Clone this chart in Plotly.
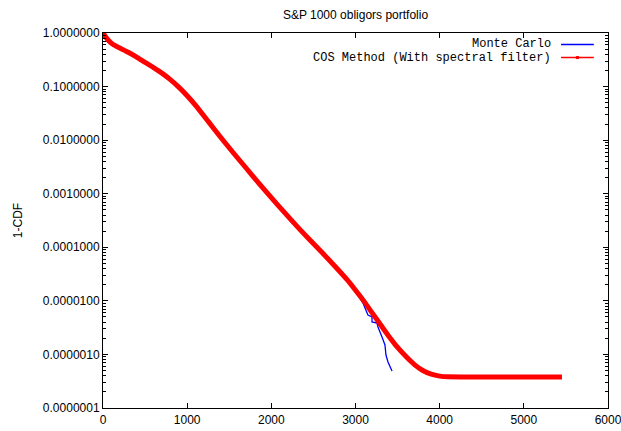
import plotly.graph_objects as go

# --- data ---
cos_x = [0, 60, 120, 200, 300, 400, 500, 600, 700, 800, 900, 1000, 1100, 1250, 1400,
         1550, 1700, 1850, 2000, 2150, 2300, 2450, 2600, 2750, 2900, 3000, 3100, 3200,
         3300, 3400, 3500, 3600, 3700, 3800, 3900, 4000, 4100, 4300, 5453]
cos_y = [1.0, 0.741, 0.610, 0.525, 0.437, 0.355, 0.282, 0.226, 0.178, 0.135, 0.0977,
         0.0676, 0.0447, 0.0224, 0.0112, 0.00575, 0.00302, 0.00158, 0.000841, 0.000457,
         0.000251, 0.000141, 8.04e-5, 4.52e-5, 2.48e-5, 1.58e-5, 9.89e-6, 5.89e-6,
         3.55e-6, 2.14e-6, 1.35e-6, 9.12e-7, 6.46e-7, 5.01e-7, 4.27e-7, 3.94e-7,
         3.82e-7, 3.80e-7, 3.80e-7]

mc_x = [0, 60, 120, 200, 300, 400, 500, 600, 700, 800, 900, 1000, 1100, 1250, 1400,
        1550, 1700, 1850, 2000, 2150, 2300, 2450, 2600, 2750, 2900, 3000, 3053, 3089,
        3113, 3137, 3148, 3196, 3196, 3255, 3267, 3315, 3350, 3362, 3386, 3434]
mc_y = [1.0, 0.741, 0.610, 0.525, 0.437, 0.355, 0.282, 0.226, 0.178, 0.135, 0.0977,
        0.0676, 0.0447, 0.0224, 0.0112, 0.00575, 0.00302, 0.00158, 0.000841, 0.000457,
        0.000251, 0.000141, 8.04e-5, 4.52e-5, 2.48e-5, 1.55e-5, 1.13e-5, 9.1e-6,
        7.35e-6, 6.2e-6, 5.44e-6, 5.0e-6, 4.03e-6, 3.86e-6, 3.25e-6, 2.11e-6,
        1.50e-6, 9.75e-7, 7.22e-7, 4.91e-7]

x_ticks = [0, 1000, 2000, 3000, 4000, 5000, 6000]
y_ticks = [1.0, 0.1, 0.01, 0.001, 0.0001, 0.00001, 0.000001, 0.0000001]
y_tick_text = ["1.0000000", "0.1000000", "0.0100000", "0.0010000", "0.0001000",
               "0.0000100", "0.0000010", "0.0000001"]

title = "S&P 1000 obligors portfolio"
y_title = "1-CDF"
series_names = ["Monte Carlo", "COS Method (With spectral filter)"]
colors = ["#0000ff", "#ff0000"]

fig = go.Figure()
fig.add_trace(go.Scatter(x=mc_x, y=mc_y, mode="lines", name=series_names[0],
                         line=dict(color=colors[0], width=1.3),
                         showlegend=False))
fig.add_trace(go.Scatter(x=cos_x, y=cos_y, mode="lines", name=series_names[1],
                         line=dict(color=colors[1], width=5, shape="spline", smoothing=0.6),
                         showlegend=False))

sans = "Liberation Sans, Arial, sans-serif"
mono = "Liberation Mono, Courier New, monospace"

# gnuplot-style legend (text right-aligned, sample line to the right)
rows_y = [0.9695, 0.9345]
for name, col, yy in zip(series_names, colors, rows_y):
    fig.add_annotation(x=0.889, y=yy, xref="paper", yref="paper", text=name,
                       showarrow=False, xanchor="right", yanchor="middle",
                       height=12, borderpad=0,
                       font=dict(family=mono, size=12, color="black"))
    fig.add_shape(type="line", xref="paper", yref="paper", x0=0.907, x1=0.972,
                  y0=yy, y1=yy, line=dict(color=col, width=1.5))
fig.add_shape(type="rect", xref="paper", yref="paper", x0=0.9365, x1=0.9425,
              y0=rows_y[1] - 0.004, y1=rows_y[1] + 0.004,
              line=dict(width=0), fillcolor=colors[1])

fig.update_layout(
    width=621, height=431,
    margin=dict(l=103, r=13, t=33, b=23, autoexpand=False),
    paper_bgcolor="white", plot_bgcolor="white",
    title=dict(text=title, x=355.5 / 621, xanchor="center",
               y=1 - 15 / 431, yanchor="middle", automargin=False,
               font=dict(family=sans, size=12, color="black")),
    font=dict(family=sans, size=12, color="black"),
)
fig.update_xaxes(range=[0, 6000], tickvals=x_ticks, ticktext=[str(v) for v in x_ticks],
                 showgrid=False, zeroline=False, showline=True, linecolor="black",
                 linewidth=1, mirror="ticks", ticks="inside", ticklen=5,
                 tickcolor="black", tickfont=dict(family=sans, size=12),
                 ticklabeloverflow="allow", ticklabelstandoff=1, automargin=False)
fig.update_yaxes(type="log", range=[-7, 0], tickvals=y_ticks, ticktext=y_tick_text,
                 showgrid=False, zeroline=False, showline=True, linecolor="black",
                 linewidth=1, mirror="ticks", ticks="inside", ticklen=5,
                 tickcolor="black", tickfont=dict(family=sans, size=12),
                 minor=dict(ticks="inside", ticklen=3, tickcolor="black",
                            dtick="D1", showgrid=False),
                 automargin=False,
                 title=dict(text=y_title, font=dict(family=sans, size=12), standoff=17))

fig.write_html("out.html")
